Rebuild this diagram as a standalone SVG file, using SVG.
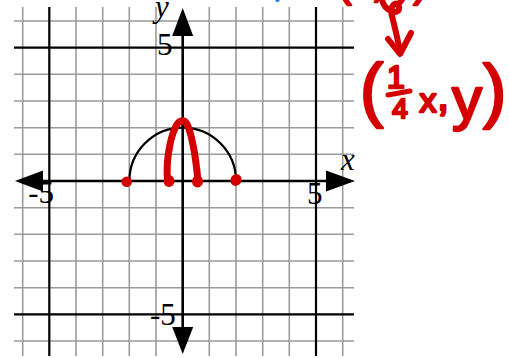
<svg xmlns="http://www.w3.org/2000/svg" width="509" height="358" viewBox="0 0 509 358">
<style>
.g{stroke:#9a9a9a;stroke-width:1.6;fill:none}
.b{stroke:#000;stroke-width:2.2;fill:none}
.ax{stroke:#000;stroke-width:2.6;fill:none}
.ah{fill:#000;stroke:none}
.lbl{font-family:"Liberation Serif","Times New Roman",serif;font-size:31px;fill:#000}
.it{font-style:italic}
.red{stroke:#d40000;fill:none;stroke-linecap:round;stroke-linejoin:round}
.rdot{fill:#d40000}
.hw{font-family:"Liberation Sans",Arial,sans-serif;fill:#d40000;stroke:#d40000;stroke-width:2.4;stroke-linejoin:round}
</style>
<rect width="509" height="358" fill="#fff"/>
<g id="grid">
<path class="g" d="M22.7,7V356M76,7V356M102.7,7V356M129.3,7V356M156,7V356M209.3,7V356M236,7V356M262.7,7V356M289.3,7V356M342.7,7V356"/>
<path class="g" d="M14,21H354M14,74.3H354M14,101H354M14,127.7H354M14,154.3H354M14,207.7H354M14,234.3H354M14,261H354M14,287.7H354M14,341H354"/>
<path class="b" d="M49.3,7V356M316,7V356M14,47.7H354M14,314.3H354"/>
</g>
<g id="axes">
<path class="ax" d="M40,181H330M182.7,33V330"/>
<polygon class="ah" points="15,181 43,170.5 43,191.5"/>
<polygon class="ah" points="355,181 326,170.5 326,191.5"/>
<polygon class="ah" points="182.7,8 172.2,36 193.2,36"/>
<polygon class="ah" points="182.7,354 172.2,327 193.2,327"/>
</g>
<g id="labels">
<text class="lbl it" x="155" y="17">y</text>
<text class="lbl it" x="341" y="170">x</text>
<text class="lbl" x="157" y="55">5</text>
<text class="lbl" x="150" y="325">-5</text>
<text class="lbl" x="28.3" y="203">-5</text>
<text class="lbl" x="307" y="204">5</text>
</g>
<g id="semicircle">
<path d="M129.4,181A53.3,53.3 0 0 1 236,181" fill="none" stroke="#000" stroke-width="2.3"/>
</g>
<g id="red-curve">
<path class="red" stroke-width="7" d="M167.5,180C166,165 169,140 176,126C179,120 184,119 187,124C192,135 196,160 198,181"/>
<ellipse class="rdot" cx="169" cy="181" rx="5.5" ry="6"/>
<ellipse class="rdot" cx="197.5" cy="181.5" rx="5.5" ry="6"/>
<circle class="rdot" cx="126.7" cy="181.7" r="5.3"/>
<ellipse class="rdot" cx="236" cy="180" rx="5.5" ry="6" transform="rotate(30 236 180)"/>
</g>
<g id="annotation">
<ellipse cx="277.5" cy="0.5" rx="2" ry="1.5" fill="#1e7fe0"/>
<text class="hw" x="338" y="-3" font-size="40">(x, y)</text>
<path class="red" stroke-width="6" d="M382,0C385,12 400,16 399,7C398,0 389,4 392,16C395,28 398,40 400,52"/>
<path class="red" stroke-width="6" d="M388,39L400,54L411,33"/>
<text class="hw" x="360" y="113" font-size="70">(</text>
<text class="hw" x="396" y="88" font-size="32" text-anchor="middle" stroke-width="1.5">1</text>
<path class="red" stroke-width="5" d="M388,95L410,91"/>
<text class="hw" x="400" y="118" font-size="28" text-anchor="middle" stroke-width="1.5">4</text>
<text class="hw" x="428" y="112" font-size="34" text-anchor="middle">x</text>
<text class="hw" x="437" y="110" font-size="44">,</text>
<text class="hw" x="467" y="119" font-size="60" text-anchor="middle">y</text>
<text class="hw" x="483" y="114" font-size="70">)</text>
</g>
</svg>
